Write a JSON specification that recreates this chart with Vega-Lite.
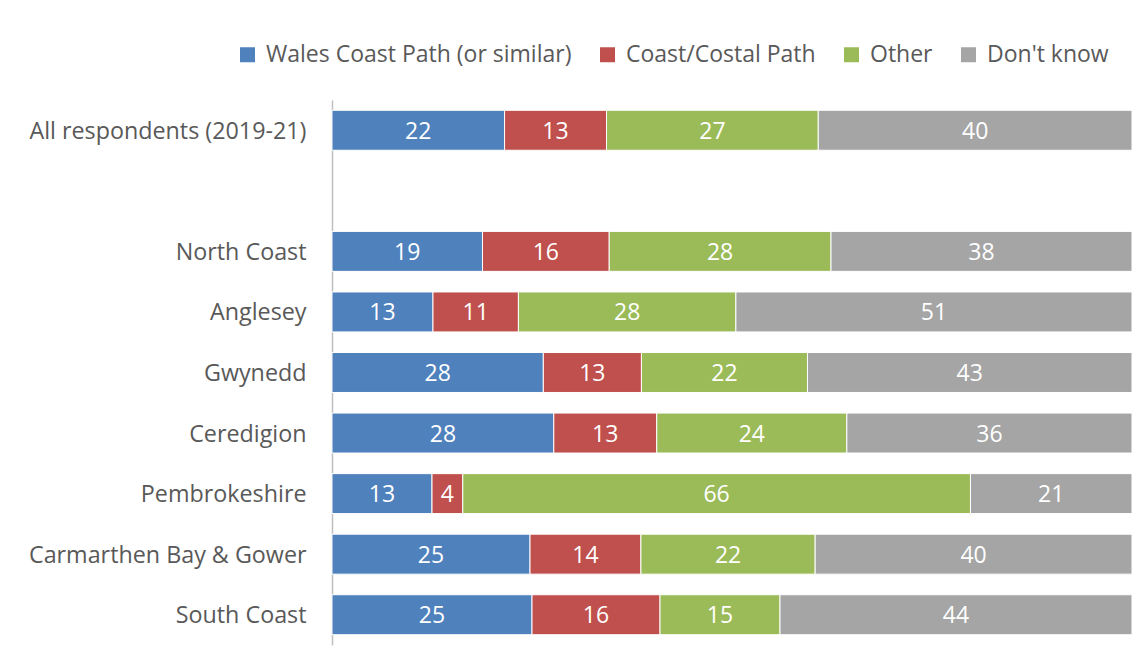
{
  "$schema": "https://vega.github.io/schema/vega-lite/v6.json",
  "width": 800,
  "height": 545,
  "autosize": {"type": "none"},
  "padding": {"left": 332, "top": 100, "right": 16, "bottom": 20},
  "background": "white",
  "config": {
    "view": {"stroke": null},
    "font": "Open Sans",
    "text": {"font": "Open Sans"}
  },
  "data": {
    "values": [
      {"region": "All respondents (2019-21)", "answer": "Wales Coast Path (or similar)", "o": 1, "value": 22},
      {"region": "All respondents (2019-21)", "answer": "Coast/Costal Path", "o": 2, "value": 13},
      {"region": "All respondents (2019-21)", "answer": "Other", "o": 3, "value": 27},
      {"region": "All respondents (2019-21)", "answer": "Don't know", "o": 4, "value": 40},
      {"region": "North Coast", "answer": "Wales Coast Path (or similar)", "o": 1, "value": 19},
      {"region": "North Coast", "answer": "Coast/Costal Path", "o": 2, "value": 16},
      {"region": "North Coast", "answer": "Other", "o": 3, "value": 28},
      {"region": "North Coast", "answer": "Don't know", "o": 4, "value": 38},
      {"region": "Anglesey", "answer": "Wales Coast Path (or similar)", "o": 1, "value": 13},
      {"region": "Anglesey", "answer": "Coast/Costal Path", "o": 2, "value": 11},
      {"region": "Anglesey", "answer": "Other", "o": 3, "value": 28},
      {"region": "Anglesey", "answer": "Don't know", "o": 4, "value": 51},
      {"region": "Gwynedd", "answer": "Wales Coast Path (or similar)", "o": 1, "value": 28},
      {"region": "Gwynedd", "answer": "Coast/Costal Path", "o": 2, "value": 13},
      {"region": "Gwynedd", "answer": "Other", "o": 3, "value": 22},
      {"region": "Gwynedd", "answer": "Don't know", "o": 4, "value": 43},
      {"region": "Ceredigion", "answer": "Wales Coast Path (or similar)", "o": 1, "value": 28},
      {"region": "Ceredigion", "answer": "Coast/Costal Path", "o": 2, "value": 13},
      {"region": "Ceredigion", "answer": "Other", "o": 3, "value": 24},
      {"region": "Ceredigion", "answer": "Don't know", "o": 4, "value": 36},
      {"region": "Pembrokeshire", "answer": "Wales Coast Path (or similar)", "o": 1, "value": 13},
      {"region": "Pembrokeshire", "answer": "Coast/Costal Path", "o": 2, "value": 4},
      {"region": "Pembrokeshire", "answer": "Other", "o": 3, "value": 66},
      {"region": "Pembrokeshire", "answer": "Don't know", "o": 4, "value": 21},
      {"region": "Carmarthen Bay & Gower", "answer": "Wales Coast Path (or similar)", "o": 1, "value": 25},
      {"region": "Carmarthen Bay & Gower", "answer": "Coast/Costal Path", "o": 2, "value": 14},
      {"region": "Carmarthen Bay & Gower", "answer": "Other", "o": 3, "value": 22},
      {"region": "Carmarthen Bay & Gower", "answer": "Don't know", "o": 4, "value": 40},
      {"region": "South Coast", "answer": "Wales Coast Path (or similar)", "o": 1, "value": 25},
      {"region": "South Coast", "answer": "Coast/Costal Path", "o": 2, "value": 16},
      {"region": "South Coast", "answer": "Other", "o": 3, "value": 15},
      {"region": "South Coast", "answer": "Don't know", "o": 4, "value": 44}
    ]
  },
  "transform": [
    {"stack": "value", "groupby": ["region"], "sort": [{"field": "o", "order": "ascending"}], "offset": "normalize", "as": ["x0", "x1"]},
    {"calculate": "(datum.x0 + datum.x1) / 2", "as": "xm"}
  ],
  "encoding": {
    "y": {
      "field": "region",
      "type": "nominal",
      "scale": {
        "domain": ["All respondents (2019-21)", " ", "North Coast", "Anglesey", "Gwynedd", "Ceredigion", "Pembrokeshire", "Carmarthen Bay & Gower", "South Coast"],
        "paddingInner": 0.34,
        "paddingOuter": 0.17
      },
      "axis": {
        "title": null,
        "ticks": false,
        "domainColor": "#BFBFBF",
        "domainWidth": 1.5,
        "labelFont": "Open Sans",
        "labelFontSize": 23.3,
        "labelColor": "#595959",
        "labelPadding": 26,
        "labelLimit": 400,
        "labelOffset": 1.5
      }
    }
  },
  "layer": [
    {
      "mark": {"type": "bar", "stroke": "white", "strokeWidth": 1},
      "encoding": {
        "x": {"field": "x0", "type": "quantitative", "scale": {"domain": [0, 1], "nice": false}, "axis": null},
        "x2": {"field": "x1"},
        "color": {
          "field": "answer",
          "type": "nominal",
          "scale": {
            "domain": ["Wales Coast Path (or similar)", "Coast/Costal Path", "Other", "Don't know"],
            "range": ["#4F81BD", "#C0504D", "#9BBB59", "#A5A5A5"]
          },
          "legend": {
            "title": null,
            "orient": "none",
            "legendX": -96,
            "legendY": -57,
            "direction": "horizontal",
            "symbolType": "square",
            "symbolSize": 225,
            "symbolStrokeWidth": 0,
            "labelFont": "Open Sans",
            "labelFontSize": 23,
            "labelColor": "#595959",
            "labelOffset": 7,
            "columnPadding": 24,
            "labelLimit": 400
          }
        }
      }
    },
    {
      "mark": {"type": "text", "color": "white", "fontSize": 23, "font": "Open Sans", "dy": 1.5},
      "encoding": {
        "x": {"field": "xm", "type": "quantitative"},
        "text": {"field": "value", "type": "quantitative"}
      }
    }
  ]
}
